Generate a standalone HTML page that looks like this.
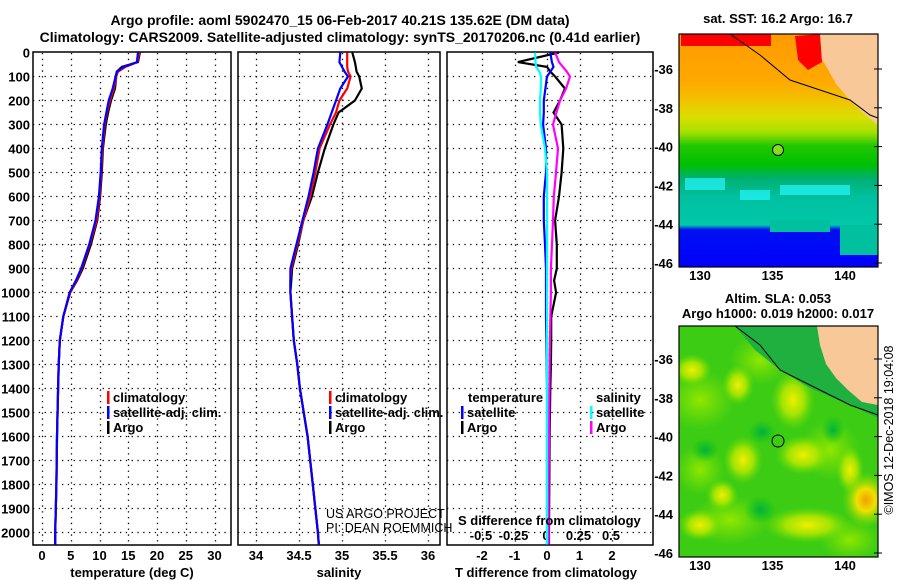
<!DOCTYPE html>
<html><head><meta charset="utf-8">
<style>
html,body{margin:0;padding:0;background:#fff;}
svg{display:block;font-family:"Liberation Sans",sans-serif;}
.b{font-weight:bold;font-size:13px;}
.n{font-weight:normal;font-size:12.5px;}
.t{font-weight:bold;font-size:14px;}
</style></head>
<body>
<svg id="c" width="900" height="580" viewBox="0 0 900 580" xmlns="http://www.w3.org/2000/svg">
<text class="t" x="340" y="25" text-anchor="middle">Argo profile: aoml 5902470_15 06-Feb-2017 40.21S 135.62E (DM data)</text>
<text class="t" x="340" y="42" text-anchor="middle">Climatology: CARS2009. Satellite-adjusted climatology: synTS_20170206.nc (0.41d earlier)</text>
<g id="maps"></g>
<g id="plots"></g>
</svg>
<script>
const depths=[0,40,60,80,100,150,200,250,300,400,500,600,700,800,900,950,1000,1100,1200,1300,1400,1600,1800,2000,2050];
const tempArgo=[17.0,16.7,13.9,13.0,12.9,12.7,12.0,11.5,11.1,10.6,10.4,10.1,9.6,8.5,7.1,6.1,4.9,3.7,3.1,2.9,2.8,2.6,2.5,2.3,2.3];
const tempClim=[16.9,16.6,14.5,13.2,12.9,12.5,11.8,11.3,10.9,10.5,10.3,10.0,9.5,8.3,6.9,6.0,4.9,3.7,3.1,2.9,2.8,2.6,2.5,2.3,2.3];
const tempSat=[16.7,16.5,14.2,13.0,12.8,12.3,11.6,11.2,10.8,10.4,10.2,9.9,9.3,8.2,6.8,5.9,4.8,3.7,3.1,2.9,2.8,2.6,2.5,2.3,2.3];
const salArgo=[35.12,35.15,35.16,35.17,35.20,35.23,35.15,34.96,34.90,34.80,34.72,34.65,34.55,34.49,34.42,34.41,34.40,34.42,34.44,34.48,34.51,34.60,34.66,34.72,34.73];
const salClim=[35.06,35.06,35.06,35.07,35.10,35.06,34.97,34.93,34.86,34.74,34.69,34.63,34.55,34.48,34.41,34.40,34.40,34.42,34.44,34.48,34.51,34.60,34.66,34.72,34.73];
const salSat=[34.98,34.97,35.00,35.03,35.07,34.98,34.93,34.88,34.83,34.72,34.67,34.61,34.54,34.47,34.40,34.40,34.40,34.42,34.44,34.48,34.51,34.60,34.66,34.72,34.73];
const tdiffArgo=[0.37,-0.9,0.0,0.1,0.25,0.55,0.4,0.2,0.45,0.5,0.45,0.37,0.25,0.3,0.3,0.22,0.28,0.13,0.13,0.12,0.1,0.08,0.07,0.06,0.06];
const tdiffSat=[0.1,0.15,0.2,0.1,0.0,-0.05,-0.1,-0.1,-0.12,-0.03,-0.03,-0.1,-0.1,-0.06,-0.03,-0.03,-0.03,-0.03,-0.02,-0.01,0,0,0,0,0];
const sdiffArgo=[0.07,0.1,0.13,0.16,0.185,0.155,0.108,0.08,0.054,0.092,0.077,0.06,0.054,0.046,0.038,0.038,0.038,0.034,0.03,0.028,0.026,0.023,0.02,0.02,0.02];
const sdiffSat=[-0.085,-0.08,-0.077,-0.05,-0.038,-0.04,-0.046,-0.046,-0.04,-0.008,0.008,0.008,0.008,0.008,0.008,0.008,0.008,0.008,0.008,0.008,0.008,0.008,0.008,0.008,0.008];
const depthTicks=[0,100,200,300,400,500,600,700,800,900,1000,1100,1200,1300,1400,1500,1600,1700,1800,1900,2000];
const tempTicks=[0,5,10,15,20,25,30];
const salTicks=[34,34.5,35,35.5,36];
const salTickLabels=["34","34.5","35","35.5","36"];
const tdTicks=[-2,-1,0,1,2];
const sdTicks=[-0.5,-0.25,0,0.25,0.5];
const sdTickLabels=["-0.5","-0.25","0","0.25","0.5"];
const latTicks=[-36,-38,-40,-42,-44,-46];
const lonTicks=[130,135,140];

const NS="http://www.w3.org/2000/svg";
function mk(tag,attrs,parent){const e=document.createElementNS(NS,tag);for(const k in attrs)e.setAttribute(k,attrs[k]);(parent||document.getElementById('plots')).appendChild(e);return e;}
const yD=d=>52.5+d*0.24;
const xT=t=>42+t*5.75;
const xS=s=>256+(s-34)*86;
const xTD=v=>547+v*32.5;
const xSD=v=>546+v*130;

const panels=[[33,231,'temperature-panel'],[238,440,'salinity-panel'],[447,653,'difference-panel']];
panels.forEach(p=>{
  const g=mk('g',{});
  
  
  const r=mk('rect',{x:p[0],y:52,width:p[1]-p[0],height:493,fill:'#fff',stroke:'#000','stroke-width':1.5},g);
  
  
  depthTicks.forEach(d=>{
    if(d===0)return;
    const l=mk('line',{x1:p[0],x2:p[1],y1:yD(d),y2:yD(d),stroke:'#000','stroke-dasharray':'1.3 4.5','stroke-width':1.3},g);
    
    
  });
});
function vgrid(ticks,fx,name,labels,ly){
  ticks.forEach((t,i)=>{
    const x=Math.round(fx(t))+0.5;
    const l=mk('line',{x1:x,x2:x,y1:53,y2:544,stroke:'#000','stroke-dasharray':'1.3 4.5','stroke-width':1.3});
    
    
    const tx=mk('text',{x:fx(t),y:ly,'text-anchor':'middle','class':'b'});
    tx.textContent=labels?labels[i]:String(t);
    
    
  });
}
vgrid(tempTicks,xT,'temperature',null,560);
vgrid(salTicks,xS,'salinity',salTickLabels,560);
vgrid(tdTicks,xTD,'t-difference',null,560);
sdTicks.forEach((t,i)=>{
  const tx=mk('text',{x:xSD(t),y:540,'text-anchor':'middle','class':'b'});
  tx.textContent=sdTickLabels[i];
  
  
});
depthTicks.forEach(d=>{
  const tx=mk('text',{x:30,y:yD(d)+5,'text-anchor':'end','class':'b'});
  tx.textContent=String(d);
  
  
});
function series(vals,fx,color,name){
  const pts=vals.map((v,i)=>fx(v).toFixed(1)+','+yD(depths[i]).toFixed(1)).join(' ');
  const pl=mk('polyline',{points:pts,fill:'none',stroke:color,'stroke-width':2.2});
  
  
}
series(tempArgo,xT,'#000','temp-argo-line');
series(tempClim,xT,'#f00','temp-climatology-line');
series(tempSat,xT,'#00f','temp-satellite-line');
series(salArgo,xS,'#000','sal-argo-line');
series(salClim,xS,'#f00','sal-climatology-line');
series(salSat,xS,'#00f','sal-satellite-line');
series(tdiffArgo,xTD,'#000','tdiff-argo-line');
series(tdiffSat,xTD,'#00f','tdiff-satellite-line');
series(sdiffArgo,xSD,'#f0f','sdiff-argo-line');
series(sdiffSat,xSD,'#0ff','sdiff-satellite-line');

function legend(x,y,color,label,name){
  const r=mk('rect',{x:x,y:y-11,width:2.5,height:13,fill:color});
  
  
  const t=mk('text',{x:x+6,y:y,'class':'b'});
  t.textContent=label;
  
  
}
legend(107,402,'#f00','climatology','legend-temp-climatology');
legend(107,417,'#00f','satellite-adj. clim.','legend-temp-satellite');
legend(107,432,'#000','Argo','legend-temp-argo');
legend(329,402,'#f00','climatology','legend-sal-climatology');
legend(329,417,'#00f','satellite-adj. clim.','legend-sal-satellite');
legend(329,432,'#000','Argo','legend-sal-argo');
legend(461,417,'#00f','satellite','legend-tdiff-satellite');
legend(461,432,'#000','Argo','legend-tdiff-argo');
legend(590,417,'#0ff','satellite','legend-sdiff-satellite');
legend(590,432,'#f0f','Argo','legend-sdiff-argo');
function label(x,y,txt,name,anchor,cls,extra){
  const t=mk('text',Object.assign({x:x,y:y,'text-anchor':anchor||'start','class':cls||'b'},extra||{}));
  t.textContent=txt;
  
  
  return t;
}
label(468,402,'temperature','legend-temperature-heading');
label(596,402,'salinity','legend-salinity-heading');
label(458,525,'S difference from climatology','s-difference-axis-title');
label(132,577,'temperature (deg C)','temperature-axis-title','middle');
label(339,577,'salinity','salinity-axis-title','middle');
label(546,577,'T difference from climatology','t-difference-axis-title','middle');
label(326,518,'US ARGO PROJECT','credit-project','start','n');
label(326,532,'PI: DEAN ROEMMICH','credit-pi','start','n');

// ---------- maps ----------
const M=document.getElementById('maps');
function mm(tag,attrs,name,parent){const e=mk(tag,attrs,parent||M);return e;}
const defs=mm('defs',{},'map-defs');
defs.innerHTML='<linearGradient id="sst" x1="0" y1="0" x2="0" y2="1"><stop offset="0" stop-color="#ff9a00"/><stop offset="0.2" stop-color="#ffa800"/><stop offset="0.28" stop-color="#f4c000"/><stop offset="0.36" stop-color="#d8e000"/><stop offset="0.42" stop-color="#a8e000"/><stop offset="0.48" stop-color="#20c800"/><stop offset="0.56" stop-color="#00c000"/><stop offset="0.62" stop-color="#00b070"/><stop offset="0.7" stop-color="#00c0a0"/><stop offset="0.82" stop-color="#00c8a8"/><stop offset="0.84" stop-color="#0010f0"/><stop offset="1" stop-color="#0000ff"/></linearGradient>'+
'<radialGradient id="blob"><stop offset="0" stop-color="#f0f000"/><stop offset="0.5" stop-color="#b8e800" stop-opacity="0.85"/><stop offset="1" stop-color="#70e000" stop-opacity="0"/></radialGradient>'+
'<radialGradient id="blobl"><stop offset="0" stop-color="#90e800"/><stop offset="1" stop-color="#80e000" stop-opacity="0"/></radialGradient>'+
'<radialGradient id="blobo"><stop offset="0" stop-color="#f0a000"/><stop offset="0.4" stop-color="#f0e000"/><stop offset="1" stop-color="#80e000" stop-opacity="0"/></radialGradient>'+
'<radialGradient id="blobd"><stop offset="0" stop-color="#00b040"/><stop offset="1" stop-color="#00c020" stop-opacity="0"/></radialGradient>'+
'<clipPath id="c1"><rect x="679" y="34" width="199" height="233"/></clipPath><clipPath id="c2"><rect x="679" y="326" width="199" height="231"/></clipPath>';
const g1=mm('g',{'clip-path':'url(#c1)'},'sst-map');
mm('rect',{x:679,y:34,width:199,height:233,fill:'url(#sst)'},'sst-field',g1);
mm('rect',{x:681,y:34,width:90,height:12,fill:'#f00'},'sst-warm-patch',g1);
mm('rect',{x:685,y:178,width:40,height:12,fill:'#20f0f0',opacity:0.8},'sst-cyan-patch',g1);
mm('rect',{x:740,y:190,width:30,height:10,fill:'#20f0f0',opacity:0.8},'sst-cyan-patch',g1);
mm('rect',{x:780,y:185,width:70,height:10,fill:'#20f0f0',opacity:0.8},'sst-cyan-patch',g1);
mm('rect',{x:840,y:225,width:38,height:30,fill:'#00c0a0'},'sst-teal-patch',g1);
mm('rect',{x:770,y:220,width:60,height:12,fill:'#00c0a0'},'sst-teal-patch',g1);
mm('polygon',{points:'812,34 878,34 878,125 862,112 848,98 836,84 826,66 816,50','fill':'#f8c898'},'sst-land',g1);
mm('polygon',{points:'795,36 820,34 822,62 808,70 798,60','fill':'#f00'},'sst-gulf-patch',g1);
mm('polyline',{points:'730,34 760,55 790,80 820,90 850,100 870,115 878,118',fill:'none',stroke:'#000','stroke-width':1},'sst-coastline',g1);
mm('circle',{cx:778,cy:150,r:5.5,fill:'#80e020',stroke:'#000','stroke-width':1},'sst-argo-location',g1);
mm('rect',{x:679,y:34,width:199,height:233,fill:'none',stroke:'#000','stroke-width':1.2},'sst-map-frame');

const g2=mm('g',{'clip-path':'url(#c2)'},'sla-map');
mm('rect',{x:679,y:326,width:199,height:231,fill:'#3ccc14'},'sla-field',g2);
[[700,400,35,30],[760,360,30,25],[830,450,30,30],[730,520,40,25],[700,470,25,25],[850,540,30,20]].forEach(b=>{
  mm('ellipse',{cx:b[0],cy:b[1],rx:b[2],ry:b[3],fill:'url(#blobl)'},'sla-mid-blob',g2);
});
[[692,370,20,16],[738,385,16,20],[793,400,22,30],[743,460,20,24],[803,455,28,20],[850,470,14,24],[808,525,45,18],[700,525,22,16],[722,495,16,16]].forEach(b=>{
  mm('ellipse',{cx:b[0],cy:b[1],rx:b[2],ry:b[3],fill:'url(#blob)'},'sla-high-blob',g2);
});
mm('ellipse',{cx:866,cy:500,rx:24,ry:28,fill:'url(#blobo)'},'sla-peak-blob',g2);
[[762,432,14,12],[833,430,12,14],[760,510,16,14],[705,450,14,12]].forEach(b=>{
  mm('ellipse',{cx:b[0],cy:b[1],rx:b[2],ry:b[3],fill:'url(#blobd)'},'sla-low-blob',g2);
});
mm('polygon',{points:'735,326 878,326 878,418 850,405 810,388 780,370 755,350','fill':'#20b040'},'sla-shelf',g2);
mm('polygon',{points:'817,326 878,326 878,405 862,402 848,390 836,378 826,364 820,345','fill':'#f8c898'},'sla-land',g2);
mm('polyline',{points:'735,326 760,345 780,370 810,385 850,405 878,415',fill:'none',stroke:'#000','stroke-width':1},'sla-coastline',g2);
mm('circle',{cx:778,cy:441,r:6,fill:'none',stroke:'#000','stroke-width':1},'sla-argo-location',g2);
mm('rect',{x:679,y:326,width:199,height:231,fill:'none',stroke:'#000','stroke-width':1.2},'sla-map-frame');

const xLon=l=>700+(l-130)*14.5;
[[69,280],[359,570]].forEach(cfg=>{
  latTicks.forEach(lat=>{
    const y=cfg[0]+(-36-lat)*19.4;
    const t=mm('text',{x:673,y:y+5,'text-anchor':'end','class':'b'},'latitude-tick-label');
    t.textContent=String(lat);
    mm('line',{x1:874,x2:882,y1:y,y2:y,stroke:'#000'},'latitude-tick');
  });
  lonTicks.forEach(lon=>{
    const t=mm('text',{x:xLon(lon),y:cfg[1],'text-anchor':'middle','class':'b'},'longitude-tick-label');
    t.textContent=String(lon);
  });
});
label(778,23,'sat. SST: 16.2 Argo: 16.7','sst-map-title','middle');
label(778,303,'Altim. SLA: 0.053','sla-map-title','middle');
label(778,318,'Argo h1000: 0.019 h2000: 0.017','argo-height-title','middle');
label(893,430,'©IMOS 12-Dec-2018 19:04:08','timestamp-credit','middle','n',{transform:'rotate(-90 893 430)'});
</script>
</body></html>
